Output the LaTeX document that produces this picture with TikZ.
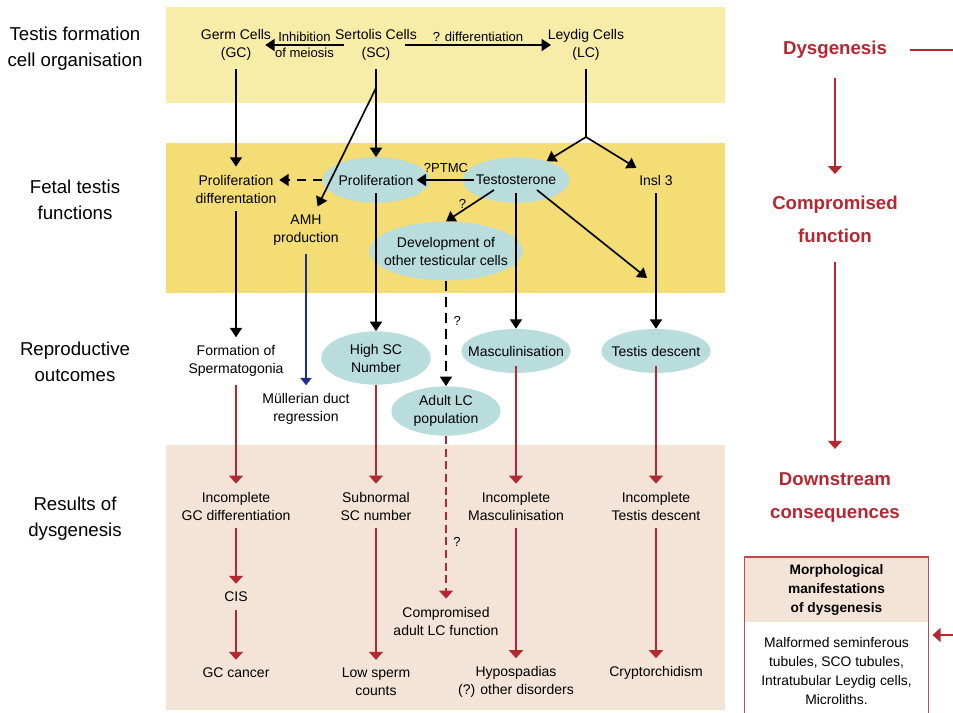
\documentclass[tikz,border=0pt]{standalone}
\usepackage{fontspec}
\setmainfont{Liberation Sans}
\usetikzlibrary{arrows.meta,%
                shapes.geometric,%
                positioning,%
                calc}
\definecolor{bandtop}{RGB}{248,237,168}
\definecolor{bandmid}{RGB}{243,221,116}
\definecolor{bandlow}{RGB}{243,228,215}
\definecolor{cellfill}{RGB}{185,221,221}
\definecolor{dysred}{RGB}{180,40,50}
\definecolor{amhblue}{RGB}{35,45,140}
\tikzstyle{txt}=[align=center, inner xsep=2pt, inner ysep=6pt, font=\fontsize{10.5}{13.5}\selectfont]
\tikzstyle{cell}=[txt, ellipse, fill=cellfill, inner xsep=-30pt, inner ysep=-20pt, minimum width=80pt, minimum height=34pt]
\tikzstyle{note}=[inner sep=1pt, font=\fontsize{9.8}{12}\selectfont]
\tikzstyle{rowlab}=[align=center, font=\fontsize{14}{19.5}\selectfont]
\tikzstyle{stage}=[align=center, inner ysep=6pt, text=dysred, font=\bfseries\fontsize{14}{24.75}\selectfont]
\tikzstyle{morph}=[align=center, outer sep=0pt, minimum width=138pt, font=\fontsize{10.4}{14.25}\selectfont]

\begin{document}
\begin{tikzpicture}[x=0.75pt, y=-0.75pt]
  \useasboundingbox (0,0) rectangle (953,713);
  \fill[bandtop] (166,7) rectangle (725,103);
  \fill[bandmid] (166,143) rectangle (725,293);
  \fill[bandlow] (166,445) rectangle (725,710);

  \node[rowlab] (rowform)  at (75,49)  {Testis formation\\cell organisation};
  \node[rowlab] (rowfetal) at (75,200) {Fetal testis\\functions};
  \node[rowlab] (rowrepro) at (75,362) {Reproductive\\outcomes};
  \node[rowlab] (rowdys)   at (75,519) {Results of\\dysgenesis};

  \node[txt] (gc) at (236,45) {Germ Cells\\(GC)};
  \node[txt] (sc) at (376,45) {Sertolis Cells\\(SC)};
  \node[txt] (lc) at (586,45) {Leydig Cells\\(LC)};

  \node[txt]  (gcprol) at (236,189) {Proliferation\\differentation};
  \node[cell] (scprol) at (376,180) {Proliferation};
  \node[cell] (testo)  at (516,180) {Testosterone};
  \node[txt]  (insl)   at (656,180) {Insl 3};
  \node[txt]  (amh)    at (306,230) {AMH\\production};
  \node[cell, minimum width=115pt, minimum height=44pt] (devcells) at (446,251) {Development of\\other testicular cells};

  \node[txt]  (sperm)   at (236,361) {Formation of\\Spermatogonia};
  \node[cell, minimum width=82pt, minimum height=40pt] (highsc) at (376,358) {High SC\\Number};
  \node[cell, minimum width=82pt, minimum height=33pt] (masc)   at (516,351) {Masculinisation};
  \node[cell, minimum width=82pt, minimum height=33pt] (tdesc)  at (656,351) {Testis descent};
  \node[txt]  (muller)  at (306,409) {Müllerian duct\\regression};
  \node[cell, minimum width=82pt, minimum height=37pt] (adultlc) at (446,411) {Adult LC\\population};

  \node[txt] (gcdiff)   at (236,506) {Incomplete\\GC differentiation};
  \node[txt] (cis)      at (236,597) {CIS};
  \node[txt] (gccancer) at (236,673) {GC cancer};
  \node[txt] (scnum)    at (376,506) {Subnormal\\SC number};
  \node[txt] (lowsperm) at (376,682) {Low sperm\\counts};
  \node[txt] (adultfn)  at (446,621) {Compromised\\adult LC function};
  \node[txt] (incmasc)  at (516,506) {Incomplete\\Masculinisation};
  \node[txt] (hypo)     at (516,682) {Hypospadias\\(?) other disorders};
  \node[txt] (inctd)    at (656,506) {Incomplete\\Testis descent};
  \node[txt] (crypto)   at (656,673) {Cryptorchidism};

  \node[stage] (dys)    at (835,50)  {Dysgenesis};
  \node[stage] (compfn) at (835,219) {Compromised\\function};
  \node[stage] (downst) at (835,498) {Downstream\\consequences};
  \node[morph, fill=bandlow, minimum height=48.75pt, font=\bfseries\fontsize{10.3}{14.25}\selectfont] (morphhd) at (836.5,589.5) {Morphological\\manifestations\\of dysgenesis};
  \node[morph, below=0pt of morphhd, minimum height=73.5pt] (morphbd) {Malformed seminferous\\tubules, SCO tubules,\\Intratubular Leydig cells,\\Microliths.};
  \draw[dysred!85, line width=1pt] (morphhd.north west) rectangle (morphbd.south east);

  \coordinate (lcfork)  at (586,137);
  \coordinate (scsplit) at (376,88);
  \coordinate (tdjoin)  at (647,278);
  \coordinate (edgeA)   at (960,50);
  \coordinate (edgeB)   at (960,635);

  \tikzstyle{blk}=[draw=black, line width=1.25pt, -{Triangle[width=9pt,length=7pt]}]
  \tikzstyle{rd}=[draw=dysred, line width=1.1pt, -{Triangle[width=10.5pt,length=6pt]}]
  \tikzstyle{blu}=[draw=amhblue, line width=0.9pt, -{Triangle[width=8.5pt,length=5.5pt]}]

  \draw[blk] ([xshift=8.5pt]sc.west) -- node[note, above=1pt] {Inhibition} node[note, below=1pt] {of meiosis} ([xshift=-6.5pt]gc.east);
  \draw[blk] ([xshift=-11pt]sc.east) -- node[note, above=1pt] {? differentiation} ([xshift=4.5pt]lc.west);
  \draw[line width=1.25pt] (lc) -- (lcfork);
  \draw[blk] (lcfork) -- (testo);
  \draw[blk] (lcfork) -- (insl);
  \draw[blk] (gc) -- (gcprol);
  \draw[blk] (sc) -- (scprol);
  \draw[blk] (scsplit) -- (amh);

  \draw[blk, dash pattern=on 7pt off 5pt] (scprol.west) -- (scprol.west -| gcprol.east);
  \draw[blk, shorten <=31.5pt, shorten >=30.5pt] (testo.center) -- node[note, above=4pt] {?PTMC} (scprol.center);
  \draw[blk] ($(testo.center)+(-22,10)$) -- node[note, pos=0.45, left=3pt] {?} (devcells.north);
  \draw[blk] ($(testo.center)+(21,10)$) -- (tdjoin);

  \draw[blk] (gcprol) -- (sperm);
  \draw[blu] (amh) -- (muller);
  \draw[blk, shorten <=10pt] (scprol.center) -- (highsc);
  \draw[blk, dash pattern=on 8pt off 4pt] (devcells) -- node[note, pos=0.38, right=4pt] {?} (adultlc);
  \draw[blk, shorten <=10pt] (testo.center) -- (masc);
  \draw[blk] (insl) -- (tdesc);

  \draw[rd] (sperm) -- (gcdiff);
  \draw[rd] (highsc) -- (scnum);
  \draw[rd, dash pattern=on 6pt off 3.5pt] (adultlc) -- node[note, pos=0.65, right=4pt] {?} (adultfn);
  \draw[rd, shorten <=11pt] (masc.center) -- (incmasc);
  \draw[rd, shorten <=11pt] (tdesc.center) -- (inctd);
  \draw[rd] (gcdiff) -- (cis);
  \draw[rd] (cis) -- (gccancer);
  \draw[rd] (scnum) -- (lowsperm);
  \draw[rd] (incmasc) -- (hypo);
  \draw[rd] (inctd) -- (crypto);

  \draw[rd, shorten <=8.5pt, shorten >=10pt] (dys) -- (compfn);
  \draw[rd, shorten <=8.5pt, shorten >=12pt] (compfn) -- (downst);
  \draw[dysred, line width=1.1pt, shorten <=14pt] (dys) -- (edgeA);
  \draw[rd, shorten >=3pt] (edgeB) -- (edgeB -| morphbd.east);
  %\draw[red] (0,0) grid[step=50] (953,713);
\end{tikzpicture}
\end{document}
